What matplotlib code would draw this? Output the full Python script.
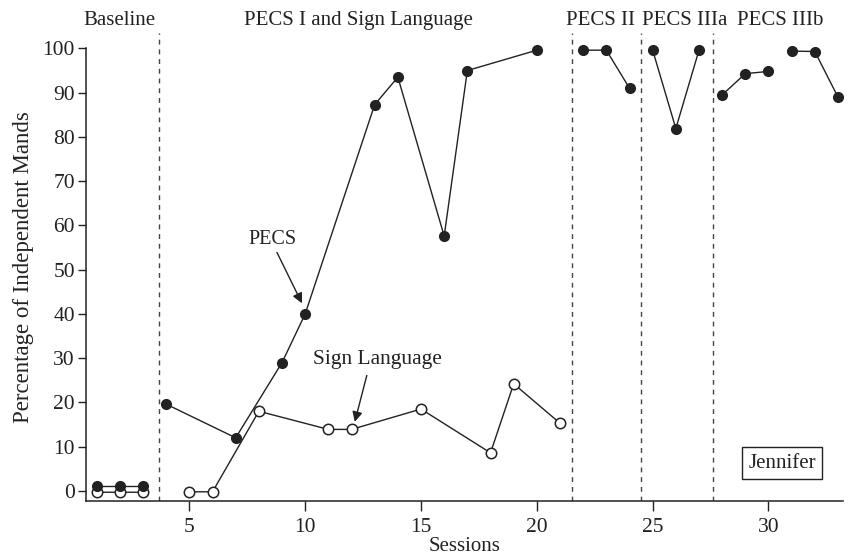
import numpy as np
import matplotlib.pyplot as plt

plt.rcParams['font.family'] = ['Liberation Serif', 'DejaVu Serif']

# PECS (filled) - sessions and values, None marks a break in the line
pecs_sessions = [1, 2, 3, None, 4, 7, 9, 10, 13, 14, 16, 17, 20, None,
                 22, 23, 24, None, 25, 26, 27, None, 28, 29, 30, None, 31, 32, 33]
pecs_values = [1, 1, 1, None, 19.6, 12, 29, 40, 87.3, 93.5, 57.6, 95, 99.6, None,
               99.6, 99.6, 91, None, 99.6, 81.9, 99.6, None, 89.5, 94.3, 94.8, None, 99.4, 99.3, 89]

# Sign Language (open)
sign_sessions = [1, 2, 3, None, 5, 6, 8, 11, 12, 15, 18, 19, 21]
sign_values = [-0.3, -0.3, -0.3, None, -0.2, -0.2, 18, 13.9, 13.9, 18.5, 8.6, 24.2, 15.3]

phase_lines = [3.7, 21.5, 24.5, 27.6]
phase_labels = ['Baseline', 'PECS I and Sign Language', 'PECS II', 'PECS IIIa', 'PECS IIIb']
phase_label_x = [2.0, 12.3, 22.75, 26.4, 30.5]


def to_arr(vals):
    return np.array([np.nan if v is None else v for v in vals], dtype=float)


fig = plt.figure(figsize=(8.52, 5.58), dpi=100)
ax = fig.add_axes([0.101, 0.102, 0.888, 0.839])

ink = '#222222'
ax.plot(to_arr(sign_sessions), to_arr(sign_values), color=ink, lw=1.0,
        marker='o', ms=7.5, mfc='white', mec=ink, mew=1.1, zorder=3)
ax.plot(to_arr(pecs_sessions), to_arr(pecs_values), color=ink, lw=1.0,
        marker='o', ms=7, mfc=ink, mec=ink, zorder=4)

for x in phase_lines:
    ax.axvline(x, color='#444444', lw=1.0, ls=(0, (3.5, 3.5)), zorder=1)

for lbl, x in zip(phase_labels, phase_label_x):
    ax.text(x, 106.3, lbl, ha='center', va='center', fontsize=15, color=ink, clip_on=False)

arrow = dict(arrowstyle='-|>', color=ink, lw=1.0, shrinkA=0, shrinkB=0, mutation_scale=15)
ax.text(8.6, 56.8, 'PECS', ha='center', va='center', fontsize=14.5, color=ink)
ax.annotate('', xy=(9.86, 42.4), xytext=(8.78, 53.9), arrowprops=arrow)
ax.text(13.1, 29.6, 'Sign Language', ha='center', va='center', fontsize=15.5, color=ink)
ax.annotate('', xy=(12.14, 15.6), xytext=(12.66, 26.1), arrowprops=arrow)

ax.text(30.6, 6.3, 'Jennifer', ha='center', va='center', fontsize=15, color=ink,
        bbox=dict(boxstyle='square,pad=0.3', fc='white', ec=ink, lw=1.0))

ax.set_xlim(0.54, 33.2)
ax.set_ylim(-2.3, 103.5)
ax.set_xticks([5, 10, 15, 20, 25, 30])
ax.set_yticks(np.arange(0, 101, 10))
ax.spines['top'].set_visible(False)
ax.spines['right'].set_visible(False)
ax.spines['left'].set_bounds(-2.3, 100)
for s in ['left', 'bottom']:
    ax.spines[s].set_color(ink)
    ax.spines[s].set_linewidth(1.1)
ax.tick_params(axis='both', direction='out', length=6, width=1.0, colors=ink,
               labelsize=15.5, pad=2)
ax.tick_params(axis='x', length=7, pad=5)

ax.set_xlabel('Sessions', fontsize=15, color=ink, labelpad=0)
ax.set_ylabel('Percentage of Independent Mands', fontsize=16.5, color=ink, labelpad=6)

fig.savefig('out.png', dpi=100)
